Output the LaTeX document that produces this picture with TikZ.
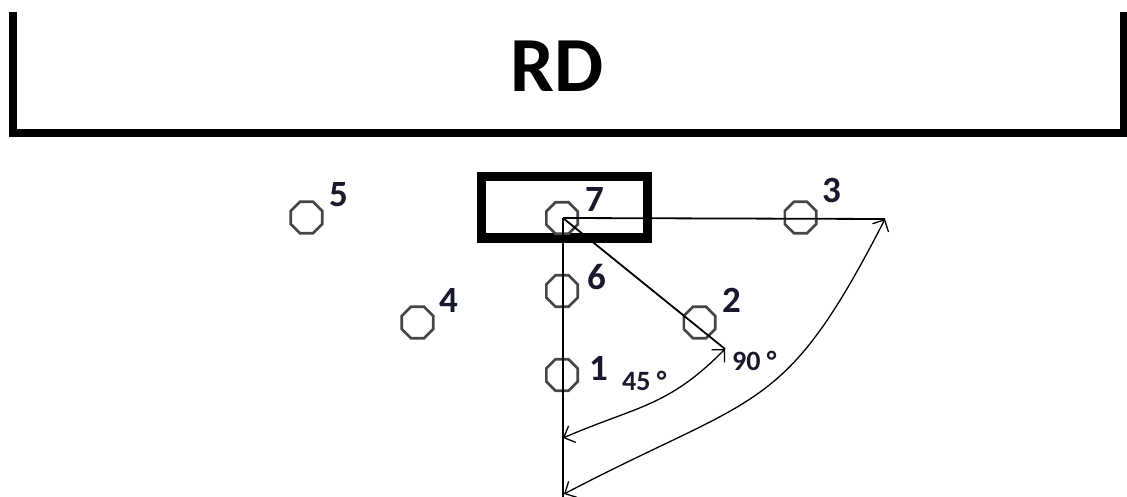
\documentclass[tikz,border=0pt]{standalone}
\usepackage{fontspec}
\setmainfont{Carlito}
\usetikzlibrary{shapes.geometric,arrows.meta}
\definecolor{lbl}{RGB}{25,25,45}
\definecolor{octc}{RGB}{70,70,70}
\tikzset{
  oct/.style={draw=octc,line width=2.6pt,regular polygon,regular polygon sides=8,minimum size=34pt,inner sep=0pt},
  num/.style={anchor=base west,inner sep=0pt,text=lbl,font=\fontsize{37}{40}\selectfont\bfseries},
  deg/.style={anchor=base west,inner sep=0pt,text=lbl,font=\fontsize{28}{30}\selectfont\bfseries},
  ray/.style={draw=black,line width=1.8pt},
  swing/.style={draw=black,line width=1.3pt,{Straight Barb[length=9pt,width=18pt,line width=1.3pt]}-{Straight Barb[length=9pt,width=18pt,line width=1.3pt]}},
  frame/.style={draw=black,line width=8pt,line join=miter},
  holder/.style={draw=black,line width=9pt,rectangle,inner sep=0pt,minimum width=166pt,minimum height=61.5pt}
}
\begin{document}
\begin{tikzpicture}[x=1pt,y=-1pt]
\useasboundingbox (0,0) rectangle (1127,497);
% RD region
\draw[frame] (13,12) -- (13,133) -- (1124,133) -- (1124,12);
\node[anchor=base,inner sep=0pt,font=\fontsize{78}{80}\selectfont\bfseries] (rd) at (557,92) {RD};
% holder box around 7
\node[holder] (box7) at (564.5,207.25) {};
% octagons
\node[oct] (o7) at (562,218) {};
\node[oct] (o6) at (562,291) {};
\node[oct] (o1) at (562,375) {};
\node[oct] (o2) at (699.5,322.5) {};
\node[oct] (o3) at (800.5,217.5) {};
\node[oct] (o5) at (306.5,217.5) {};
\node[oct] (o4) at (417.5,322.5) {};
% labels
\node[num] (l7) at (585,212) {7};
\node[num] (l6) at (587,289) {6};
\node[num] (l1) at (589,380) {1};
\node[num] (l2) at (722,312) {2};
\node[num] (l3) at (822,203) {3};
\node[num] (l5) at (329,207) {5};
\node[num] (l4) at (439,312) {4};
\node[deg] (d45) at (622,390) {45 °};
\node[deg] (d90) at (732,370) {90 °};
% rays
\coordinate (piv) at (563,218);
\coordinate (hEnd) at (885,219);
\coordinate (dEnd) at (725,349);
\coordinate (vEnd) at (563,497);
\coordinate (a45) at (563,438);
\coordinate (a90) at (564,494);
\draw[ray] (piv) -- (hEnd);
\draw[ray] (piv) -- (dEnd);
\draw[ray] (piv) -- (vEnd);
% angle arcs
\draw[swing] (dEnd) .. controls (668,407) and (637,406) .. (a45);
\draw[swing] (hEnd) .. controls (784,416) and (759,392) .. (a90);
\end{tikzpicture}
\end{document}
